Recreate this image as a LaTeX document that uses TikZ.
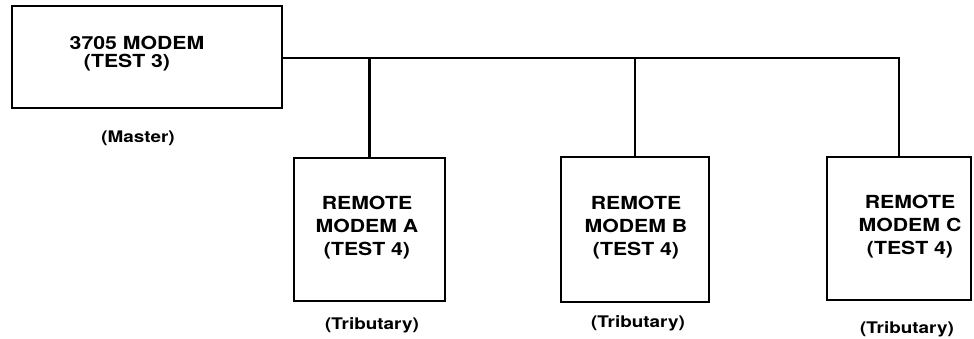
\documentclass[tikz,border=0pt]{standalone}
\usepackage{fontspec}
\setmainfont{TeX Gyre Heros}[FakeStretch=1.18]
\begin{document}
\begin{tikzpicture}[x=1pt,y=-1pt,
  box/.style={draw=black,line width=2.4pt,minimum width=#1,inner sep=0pt},
  boxtext/.style={align=center,font=\bfseries\fontsize{18}{23}\selectfont,inner sep=0pt},
  lbl/.style={font=\bfseries\fontsize{16}{19}\selectfont,inner sep=0pt},
  wire/.style={line width=2.4pt}]
\useasboundingbox (0,0) rectangle (974,339);
% master
\node[box=270pt,minimum height=102pt] (m) at (147,57) {};
\node[boxtext] (mt1) at (137,43) {3705 MODEM};
\node[boxtext] (mt2) at (127,63) {(TEST 3)};
\node[lbl] (ml) at (138,138) {(Master)};
% remotes
\node[box=151pt,minimum height=143pt] (a) at (369.5,229.5) {};
\node[boxtext] (at) at (367,228) {REMOTE\\MODEM A\\(TEST 4)};
\node[lbl] (al) at (372,325) {(Tributary)};
\node[box=148pt,minimum height=145pt] (b) at (635,229.5) {};
\node[boxtext] (bt) at (636,228) {REMOTE\\MODEM B\\(TEST 4)};
\node[lbl] (bl) at (638,323) {(Tributary)};
\node[box=144pt,minimum height=143pt] (c) at (899,228.5) {};
\node[boxtext] (ct) at (910,227) {REMOTE\\MODEM C\\(TEST 4)};
\node[lbl] (cl) at (907,329) {(Tributary)};
% bus
\coordinate (bus) at (899,58);
\draw[wire] (m.east |- bus) -- (bus) -- (c.north);
\draw[wire] (a.north |- bus) -- (a.north);
\draw[wire] (b.north |- bus) -- (b.north);
\end{tikzpicture}
\end{document}
